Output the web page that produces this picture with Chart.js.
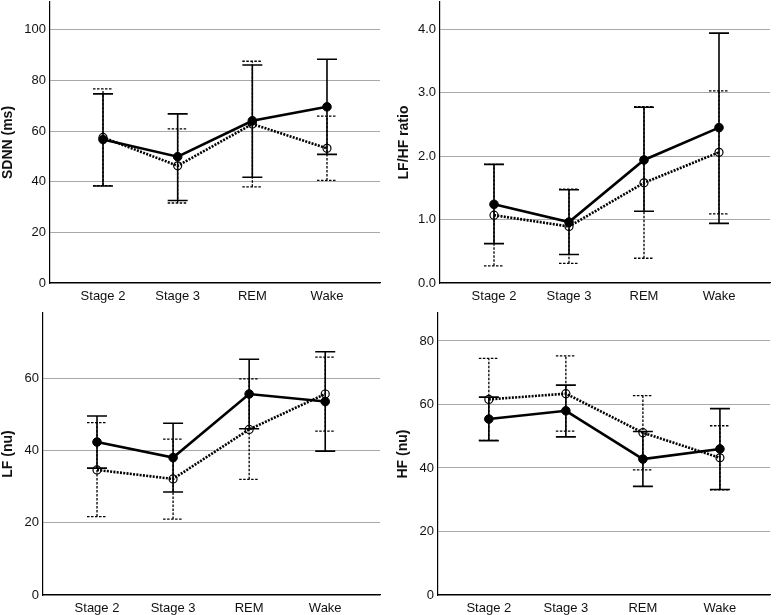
<!DOCTYPE html>
<html>
<head>
<meta charset="utf-8">
<script src="https://cdn.jsdelivr.net/npm/chart.js@4.4.1/dist/chart.umd.min.js"></script>
<style>
  html, body { margin: 0; padding: 0; background: #fff; }
  body { width: 777px; height: 615px; position: relative; overflow: hidden; }
  canvas { position: absolute; }
</style>
</head>
<body>
<canvas id="c1" width="382" height="305" style="left:0px;top:0px;width:382px;height:305px"></canvas>
<canvas id="c2" width="382" height="305" style="left:390px;top:0px;width:382px;height:305px"></canvas>
<canvas id="c3" width="382" height="310" style="left:0px;top:305px;width:382px;height:310px"></canvas>
<canvas id="c4" width="382" height="310" style="left:390px;top:305px;width:382px;height:310px"></canvas>
<script>
// ---- Data ----
const categories = ['Stage 2', 'Stage 3', 'REM', 'Wake'];

// SDNN (ms)
const sdnnSolidMean = [56.7, 49.9, 64.1, 69.6];
const sdnnSolidLow  = [38.3, 32.6, 41.8, 50.8];
const sdnnSolidHigh = [74.7, 66.8, 86.1, 88.4];
const sdnnOpenMean  = [57.5, 46.3, 62.8, 53.2];
const sdnnOpenLow   = [38.5, 31.6, 38.0, 40.5];
const sdnnOpenHigh  = [76.7, 60.9, 87.6, 65.9];
const sdnnTicks = [0, 20, 40, 60, 80, 100];

// LF/HF ratio
const lfhfSolidMean = [1.24, 0.96, 1.94, 2.45];
const lfhfSolidLow  = [0.62, 0.45, 1.13, 0.94];
const lfhfSolidHigh = [1.87, 1.47, 2.77, 3.94];
const lfhfOpenMean  = [1.07, 0.89, 1.58, 2.06];
const lfhfOpenLow   = [0.27, 0.31, 0.39, 1.09];
const lfhfOpenHigh  = [1.87, 1.48, 2.78, 3.03];
const lfhfTicks = [0, 1, 2, 3, 4];

// LF (nu)
const lfSolidMean = [42.3, 38.0, 55.6, 53.5];
const lfSolidLow  = [35.1, 28.5, 46.0, 39.8];
const lfSolidHigh = [49.5, 47.5, 65.2, 67.3];
const lfOpenMean  = [34.6, 32.1, 45.8, 55.6];
const lfOpenLow   = [21.7, 21.0, 32.0, 45.3];
const lfOpenHigh  = [47.7, 43.1, 59.8, 65.8];
const lfTicks = [0, 20, 40, 60];

// HF (nu)
const hfSolidMean = [55.4, 58.0, 42.8, 46.0];
const hfSolidLow  = [48.6, 49.8, 34.2, 33.2];
const hfSolidHigh = [62.3, 66.1, 51.5, 58.7];
const hfOpenMean  = [61.6, 63.4, 51.1, 43.2];
const hfOpenLow   = [48.7, 51.6, 39.4, 33.1];
const hfOpenHigh  = [74.5, 75.3, 62.8, 53.3];
const hfTicks = [0, 20, 40, 60, 80];

// ---- Rendering ----
const FONT = "Arimo, 'Liberation Sans', Arial, Helvetica, sans-serif";

const errorBarPlugin = {
  id: 'errorBars',
  beforeDatasetsDraw(chart, args, opts) {
    const ctx = chart.ctx;
    const xs = chart.scales.x, ys = chart.scales.y;
    (opts.bars || []).forEach(b => {
      ctx.save();
      ctx.strokeStyle = '#000';
      ctx.lineWidth = b.width;
      ctx.setLineDash(b.dash);
      b.low.forEach((lo, i) => {
        const hi = b.high[i];
        const x = xs.getPixelForValue(i);
        const y1 = ys.getPixelForValue(lo);
        const y2 = ys.getPixelForValue(hi);
        ctx.beginPath();
        ctx.moveTo(x, y1); ctx.lineTo(x, y2);
        ctx.moveTo(x - b.cap, y1); ctx.lineTo(x + b.cap, y1);
        ctx.moveTo(x - b.cap, y2); ctx.lineTo(x + b.cap, y2);
        ctx.stroke();
      });
      ctx.restore();
    });
  }
};

function pts(arr) { return arr.map((v, i) => ({ x: i, y: v })); }

function zeroPad(s) { s.paddingTop = 0; s.paddingBottom = 0; s.paddingLeft = 0; s.paddingRight = 0; }

function makeChart(id, p) {
  const canvas = document.getElementById(id);
  const H = canvas.height;
  return new Chart(canvas, {
    type: 'line',
    data: {
      datasets: [
        {
          data: pts(p.openMean),
          borderColor: '#000',
          borderWidth: 2.6,
          borderDash: [2, 1.3],
          pointRadius: 4,
          pointBorderWidth: 1.2,
          pointBackgroundColor: 'rgba(255,255,255,0)',
          pointBorderColor: '#000',
          tension: 0
        },
        {
          data: pts(p.solidMean),
          borderColor: '#000',
          borderWidth: 2.6,
          pointRadius: 4.3,
          pointBorderWidth: 1,
          pointBackgroundColor: '#000',
          pointBorderColor: '#000',
          tension: 0
        }
      ]
    },
    options: {
      responsive: false,
      devicePixelRatio: 1,
      animation: false,
      layout: { autoPadding: false, padding: { top: p.padTop, right: 2, left: 0, bottom: 0 } },
      plugins: {
        legend: { display: false },
        tooltip: { enabled: false },
        errorBars: {
          bars: [
            { low: p.openLow, high: p.openHigh, dash: [2.5, 1.5], width: 1.3, cap: 10 },
            { low: p.solidLow, high: p.solidHigh, dash: [], width: 1.6, cap: 10 }
          ]
        }
      },
      scales: {
        x: {
          type: 'linear',
          min: p.xmin, max: p.xmax,
          afterBuildTicks(s) { s.ticks = categories.map((c, i) => ({ value: i })); },
          afterFit(s) { s.height = H - p.bottom; zeroPad(s); },
          grid: { display: false, drawTicks: false },
          border: { color: '#000', width: 1.2 },
          ticks: {
            padding: 6,
            color: '#111',
            font: { family: FONT, size: 13 },
            callback: (v) => categories[v],
            maxRotation: 0, autoSkip: false
          }
        },
        y: {
          min: 0, max: p.ymax,
          afterBuildTicks(s) { s.ticks = p.ticks.map(v => ({ value: v })); },
          afterFit(s) { s.width = p.yWidth; zeroPad(s); },
          grid: { color: '#a8a8a8', lineWidth: 1, drawTicks: false },
          border: { color: '#000', width: 1.2 },
          ticks: {
            padding: 4,
            color: '#111',
            font: { family: FONT, size: 13 },
            callback: (v) => p.fmt(v)
          },
          title: {
            display: true,
            text: p.title,
            color: '#111',
            font: { family: FONT, size: 14, weight: 'bold' },
            padding: { top: p.titlePad, bottom: 0 }
          }
        }
      }
    },
    plugins: [errorBarPlugin]
  });
}

makeChart('c1', {
  title: 'SDNN (ms)', ymax: 111, ticks: sdnnTicks, fmt: v => String(v),
  solidMean: sdnnSolidMean, solidLow: sdnnSolidLow, solidHigh: sdnnSolidHigh,
  openMean: sdnnOpenMean, openLow: sdnnOpenLow, openHigh: sdnnOpenHigh,
  xmin: -0.71, xmax: 3.71, yWidth: 50, bottom: 283, padTop: 2, titlePad: 0
});
makeChart('c2', {
  title: 'LF/HF ratio', ymax: 4.43, ticks: lfhfTicks, fmt: v => v.toFixed(1),
  solidMean: lfhfSolidMean, solidLow: lfhfSolidLow, solidHigh: lfhfSolidHigh,
  openMean: lfhfOpenMean, openLow: lfhfOpenLow, openHigh: lfhfOpenHigh,
  xmin: -0.72, xmax: 3.68, yWidth: 50, bottom: 283, padTop: 2, titlePad: 6
});
makeChart('c3', {
  title: 'LF (nu)', ymax: 78, ticks: lfTicks, fmt: v => String(v),
  solidMean: lfSolidMean, solidLow: lfSolidLow, solidHigh: lfSolidHigh,
  openMean: lfOpenMean, openLow: lfOpenLow, openHigh: lfOpenHigh,
  xmin: -0.71, xmax: 3.72, yWidth: 43, bottom: 290, padTop: 8, titlePad: 0
});
makeChart('c4', {
  title: 'HF (nu)', ymax: 88.8, ticks: hfTicks, fmt: v => String(v),
  solidMean: hfSolidMean, solidLow: hfSolidLow, solidHigh: hfSolidHigh,
  openMean: hfOpenMean, openLow: hfOpenLow, openHigh: hfOpenHigh,
  xmin: -0.66, xmax: 3.65, yWidth: 48, bottom: 290, padTop: 8, titlePad: 5
});
</script>
</body>
</html>
